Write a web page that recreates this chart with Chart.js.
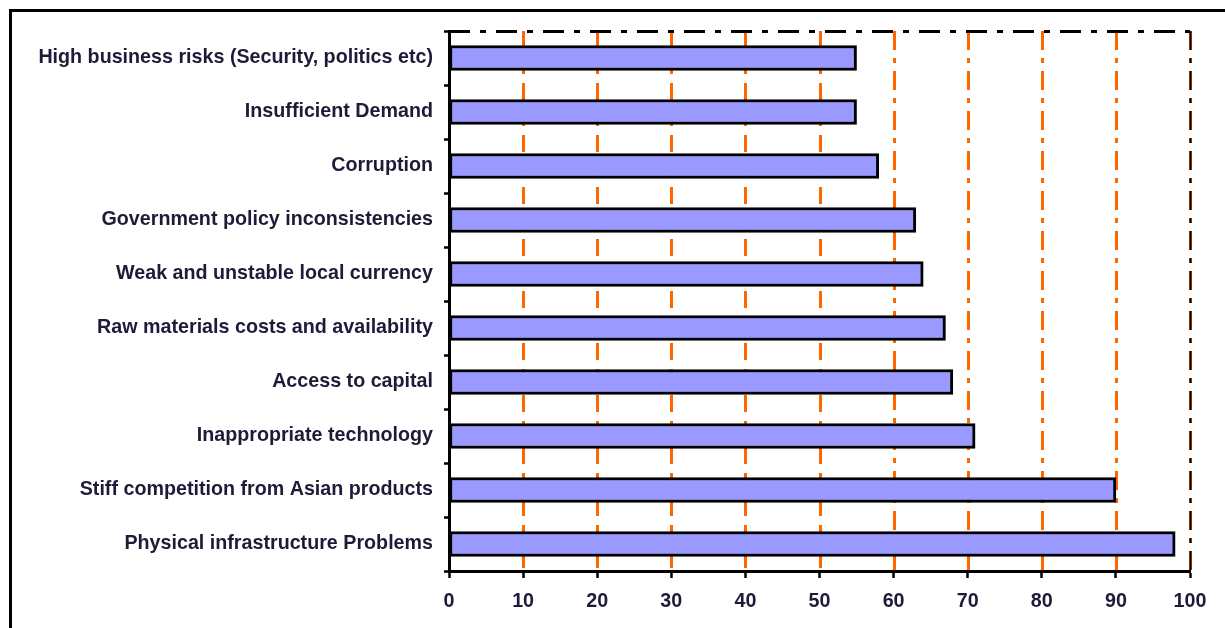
<!DOCTYPE html>
<html>
<head>
<meta charset="utf-8">
<script src="https://cdn.jsdelivr.net/npm/chart.js@4.4.1/dist/chart.umd.min.js"></script>
<style>
  html, body { margin: 0; padding: 0; background: #fff; overflow: hidden; }
  #wrap { position: relative; width: 1225px; height: 628px; }
  #frame { position: absolute; left: 9px; top: 9px; width: 1400px; height: 800px;
           border: 3px solid #000; box-sizing: border-box; }
  #c { position: absolute; left: 0; top: 0; }
</style>
</head>
<body>
<div id="wrap">
  <div id="frame"></div>
  <canvas id="c" width="1225" height="628"></canvas>
</div>
<script>
// Constraints reported by firms (percent of respondents), top to bottom
const categories = [
  'High business risks (Security, politics etc)',
  'Insufficient Demand',
  'Corruption',
  'Government policy inconsistencies',
  'Weak and unstable local currency',
  'Raw materials costs and availability',
  'Access to capital',
  'Inappropriate technology',
  'Stiff competition from Asian products',
  'Physical infrastructure Problems'
];
const shares = [55, 55, 58, 63, 64, 67, 68, 71, 90, 98];
const xTicks = [0, 10, 20, 30, 40, 50, 60, 70, 80, 90, 100];

const textColor = '#1c1c38';
const labelFont = { family: "'Liberation Sans', Arial, sans-serif", size: 19.7, weight: 'bold' };

// Orange dashed grid behind the bars; black dash-dot top/right edge of the plot area
const plotDecor = {
  id: 'plotDecor',
  beforeDatasetsDraw(chart) {
    const { ctx, chartArea: { top, bottom }, scales: { x } } = chart;
    ctx.save();
    ctx.strokeStyle = '#FF6600';
    ctx.lineWidth = 3;
    xTicks.forEach(v => {
      if (v === 0) return;
      const px = Math.round(x.getPixelForValue(v)) + 0.5;
      ctx.setLineDash(v <= 50 ? [17, 9] : [19, 8, 5, 8]);
      ctx.beginPath();
      ctx.moveTo(px, top);
      ctx.lineTo(px, bottom);
      ctx.stroke();
    });
    ctx.restore();
  },
  afterDatasetsDraw(chart) {
    const { ctx, chartArea: { top, bottom, left, right } } = chart;
    ctx.save();
    ctx.strokeStyle = '#000';
    ctx.lineWidth = 3;
    ctx.setLineDash([21, 10, 6, 10]);
    ctx.beginPath();
    ctx.moveTo(left, top + 0.5);
    ctx.lineTo(right, top + 0.5);
    ctx.stroke();
    ctx.lineWidth = 2;
    ctx.setLineDash([19, 8, 5, 8]);
    const rx = Math.round(right) + 0.5;
    ctx.beginPath();
    ctx.moveTo(rx, top);
    ctx.lineTo(rx, bottom);
    ctx.stroke();
    ctx.restore();
  }
};

new Chart(document.getElementById('c'), {
  type: 'bar',
  data: {
    labels: categories,
    datasets: [{
      data: shares,
      backgroundColor: '#9999FF',
      borderColor: '#000000',
      borderWidth: 3,
      borderSkipped: false,
      barThickness: 25
    }]
  },
  options: {
    indexAxis: 'y',
    responsive: false,
    animation: false,
    devicePixelRatio: 1,
    layout: { padding: { left: 0, top: 31, right: 35, bottom: 0 } },
    plugins: {
      legend: { display: false },
      tooltip: { enabled: false }
    },
    scales: {
      x: {
        type: 'linear',
        min: 0,
        max: 100,
        afterBuildTicks: s => { s.ticks = xTicks.map(v => ({ value: v })); },
        grid: { drawOnChartArea: false, drawTicks: true, tickLength: 7, tickColor: '#000', tickWidth: 2.5 },
        border: { display: true, color: '#000', width: 3 },
        ticks: { color: textColor, font: labelFont, padding: 12, maxRotation: 0, autoSkip: false },
        afterFit: s => { s.height = 57; }
      },
      y: {
        type: 'category',
        grid: { offset: true, drawOnChartArea: false, drawTicks: true, tickLength: 5, tickColor: '#000', tickWidth: 2.5 },
        border: { display: true, color: '#000', width: 3 },
        ticks: { color: textColor, font: labelFont, padding: 11, autoSkip: false },
        afterFit: s => { s.width = 449; }
      }
    }
  },
  plugins: [plotDecor]
});
</script>
</body>
</html>
